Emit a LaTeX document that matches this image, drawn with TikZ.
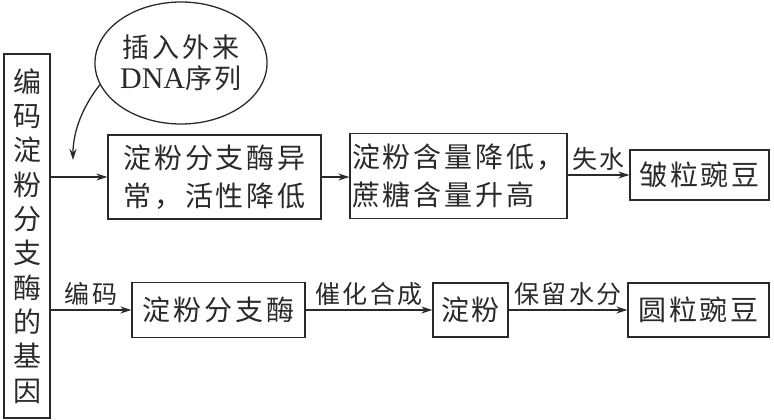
\documentclass[tikz,border=0pt]{standalone}
\usepackage{fontspec}
\setmainfont{Liberation Serif}
\newfontfamily\cjk[LetterSpace=10]{Noto Sans CJK SC}
\newfontfamily\cjkv{Noto Sans CJK SC}
\usetikzlibrary{shapes.geometric,arrows.meta}
\definecolor{ink}{HTML}{2A2A2A}
\tikzset{
  box/.style={draw=ink, line width=1.3pt, inner sep=0pt, align=left, text=ink,
    font=\cjk\fontsize{28}{38}\selectfont},
  lbl/.style={text=ink, inner sep=4pt, font=\cjk\fontsize{25}{28}\selectfont},
  arr/.style={draw=ink, line width=1.3pt, -{Stealth[length=11pt,width=7pt]}},
}
\begin{document}
\begin{tikzpicture}[x=1pt,y=-1pt]
\useasboundingbox[fill=white] (0,0) rectangle (774,420);
% left vertical box
\node[box, align=center, minimum width=46pt, minimum height=364pt,
  font=\cjkv\fontsize{28}{34.3}\selectfont] (L) at (27,236)
  {编\\码\\淀\\粉\\分\\支\\酶\\的\\基\\因};
% ellipse
\node[ellipse, draw=ink, line width=1.3pt, inner sep=0pt, minimum width=168pt,
  minimum height=122pt, align=center, text=ink,
  font=\cjk\fontsize{27}{31}\selectfont] (E) at (181,63)
  {插入外来\\{\rmfamily\fontsize{30}{31}\selectfont DNA}序列};
% top row
\node[box, minimum width=213pt, minimum height=84pt] (B1) at (214.5,177)
  {淀粉分支酶异\\常，活性降低};
\node[box, minimum width=217pt, minimum height=85pt] (B2) at (458.5,176)
  {淀粉含量降低，\\蔗糖含量升高};
\node[box, align=center, minimum width=139pt, minimum height=50pt] (B3) at (699.5,175)
  {皱粒豌豆};
% bottom row
\node[box, align=center, minimum width=173pt, minimum height=55pt] (B4) at (218.5,310)
  {淀粉分支酶};
\node[box, align=center, minimum width=75pt, minimum height=54pt] (B5) at (470.5,310)
  {淀粉};
\node[box, align=center, minimum width=141pt, minimum height=54pt] (B6) at (698.5,310)
  {圆粒豌豆};
% connectors
\coordinate (tip) at (73,160);
\draw[arr] (E.195) .. controls (80,110) and (73,135) .. (tip);
\draw[arr] (L.east |- B1.west) -- (B1.west);
\draw[arr] (B1.east) -- (B2.west |- B1.east);
\draw[arr] (B2.east |- B3.west) -- node[lbl, above] {失水} (B3.west);
\draw[arr] (L.east |- B4.west) -- node[lbl, above] {编码} (B4.west);
\draw[arr] (B4.east) -- node[lbl, above] {催化合成} (B5.west);
\draw[arr] (B5.east) -- node[lbl, above] {保留水分} (B6.west);
\end{tikzpicture}
\end{document}
